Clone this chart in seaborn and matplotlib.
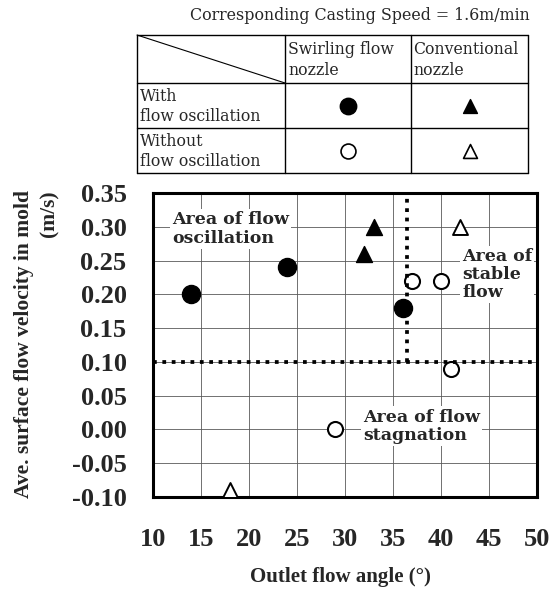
import matplotlib
matplotlib.use("Agg")
import numpy as np
import pandas as pd
import seaborn as sns
import matplotlib.pyplot as plt

# ---------------- data ----------------
swirl_osc_angle = [14, 24, 36]
swirl_osc_vel = [0.20, 0.24, 0.18]
conv_osc_angle = [32, 33]
conv_osc_vel = [0.26, 0.30]
swirl_stable_angle = [29, 37, 40, 41]
swirl_stable_vel = [0.00, 0.22, 0.22, 0.09]
conv_stable_angle = [18, 42]
conv_stable_vel = [-0.09, 0.30]

x_ticks = [10, 15, 20, 25, 30, 35, 40, 45, 50]
y_ticks = [-0.10, -0.05, 0.00, 0.05, 0.10, 0.15, 0.20, 0.25, 0.30, 0.35]
y_tick_labels = ["-0.10", "-0.05", "0.00", "0.05", "0.10", "0.15", "0.20", "0.25", "0.30", "0.35"]
threshold_vel = 0.10
threshold_angle = 36.5

title_text = "Corresponding Casting Speed = 1.6m/min"
col_headers = ["Swirling flow\nnozzle", "Conventional\nnozzle"]
row_headers = ["With\nflow oscillation", "Without\nflow oscillation"]

df = pd.concat([
    pd.DataFrame({"angle": swirl_osc_angle, "vel": swirl_osc_vel, "group": "swirl_osc"}),
    pd.DataFrame({"angle": conv_osc_angle, "vel": conv_osc_vel, "group": "conv_osc"}),
    pd.DataFrame({"angle": swirl_stable_angle, "vel": swirl_stable_vel, "group": "swirl_stable"}),
    pd.DataFrame({"angle": conv_stable_angle, "vel": conv_stable_vel, "group": "conv_stable"}),
], ignore_index=True)

styles = {
    "swirl_osc": dict(marker="o", s=169, color="black", edgecolor="black", linewidth=1.0),
    "conv_osc": dict(marker="^", s=132, color="black", edgecolor="black", linewidth=1.0),
    "swirl_stable": dict(marker="o", s=117, color="white", edgecolor="black", linewidth=1.5),
    "conv_stable": dict(marker="^", s=116, color="white", edgecolor="black", linewidth=1.4),
}

# ---------------- figure ----------------
sns.set_theme(style="white")
plt.rcParams["font.family"] = ["Liberation Serif", "DejaVu Serif"]
plt.rcParams["axes.unicode_minus"] = False

W, H = 551, 589
fig = plt.figure(figsize=(W / 100, H / 100), dpi=100)

# overlay axes in pixel coordinates for the header/legend table
ov = fig.add_axes([0, 0, 1, 1], zorder=-1)
ov.set_xlim(0, W)
ov.set_ylim(H, 0)
ov.axis("off")
ov.patch.set_alpha(0)

tfam = ["DejaVu Serif"]
ov.text(360, 15, title_text, ha="center", va="center", fontsize=11.4, family=tfam)

tx0, tx1, tx2, tx3 = 137, 285, 411, 528
ty0, ty1, ty2, ty3 = 35, 83, 128, 173
lw_t = 1.0
for yy in (ty0, ty1, ty2, ty3):
    ov.plot([tx0, tx3], [yy, yy], color="black", lw=lw_t)
for xx in (tx0, tx1, tx2, tx3):
    ov.plot([xx, xx], [ty0, ty3], color="black", lw=lw_t)
ov.plot([tx0, tx1], [ty0, ty1], color="black", lw=0.8)

tfs = 11.3
ov.text(tx1 + 3, (ty0 + ty1) / 2 + 1, col_headers[0], ha="left", va="center", fontsize=tfs,
        linespacing=1.25, family=tfam)
ov.text(tx2 + 2, (ty0 + ty1) / 2 + 1, col_headers[1], ha="left", va="center", fontsize=tfs,
        linespacing=1.25, family=tfam)
ov.text(tx0 + 3, (ty1 + ty2) / 2 + 1, row_headers[0], ha="left", va="center", fontsize=tfs,
        linespacing=1.25, family=tfam)
ov.text(tx0 + 3, (ty2 + ty3) / 2 + 1, row_headers[1], ha="left", va="center", fontsize=tfs,
        linespacing=1.25, family=tfam)

cx1, cx2 = (tx1 + tx2) / 2, (tx2 + tx3) / 2
cy1, cy2 = (ty1 + ty2) / 2, (ty2 + ty3) / 2
ov.scatter([cx1], [cy1], marker="o", s=140, color="black", edgecolor="black")
ov.scatter([cx2], [cy1], marker="^", s=100, color="black", edgecolor="black")
ov.scatter([cx1], [cy2], marker="o", s=115, color="white", edgecolor="black", linewidth=1.2)
ov.scatter([cx2], [cy2], marker="^", s=100, color="white", edgecolor="black", linewidth=1.2)

# main axes
ax = fig.add_axes([153 / W, 1 - 497 / H, 384 / W, 304 / H])
ax.set_xlim(10, 50)
ax.set_ylim(-0.10, 0.35)
ax.set_xticks(x_ticks)
ax.set_yticks(y_ticks)
ax.set_xticklabels([str(v) for v in x_ticks])
ax.set_yticklabels(y_tick_labels)
ax.grid(True, color="0.35", linewidth=0.6)
ax.set_axisbelow(True)
ax.tick_params(axis="both", length=0, labelsize=19)
ax.tick_params(axis="y", pad=19)
ax.tick_params(axis="x", pad=22)
for lab in ax.get_xticklabels() + ax.get_yticklabels():
    lab.set_fontweight("bold")
    lab.set_fontfamily("Liberation Serif")
for sp in ax.spines.values():
    sp.set_visible(True)
    sp.set_color("black")
    sp.set_linewidth(2.2)

# annotations
afs = 12.5
afam = ["DejaVu Serif"]
bbox = dict(facecolor="white", edgecolor="none", pad=1.5)
ax.text(12.0, 0.323, "Area of flow\noscillation", ha="left", va="top", fontsize=afs,
        fontweight="bold", linespacing=1.1, bbox=bbox, zorder=3, family=afam)
ax.text(42.2, 0.269, "Area of\nstable\nflow", ha="left", va="top", fontsize=afs,
        fontweight="bold", linespacing=1.1, bbox=bbox, zorder=3, family=afam)
ax.text(31.9, 0.031, "Area of flow\nstagnation", ha="left", va="top", fontsize=afs,
        fontweight="bold", linespacing=1.1, bbox=bbox, zorder=3, family=afam)

# data markers
for g, st in styles.items():
    sub = df[df["group"] == g]
    sns.scatterplot(data=sub, x="angle", y="vel", ax=ax, legend=False, zorder=5,
                    clip_on=False, **st)

# threshold dotted lines (drawn over the markers, as in the original)
ax.axhline(threshold_vel, color="black", lw=2.7, linestyle=(0, (1, 1.5)), zorder=6)
ax.plot([threshold_angle, threshold_angle], [threshold_vel, 0.35], color="black",
        lw=2.7, linestyle=(0, (1, 1.5)), zorder=6)

ax.set_xlabel("")
ax.set_ylabel("")

fig.text(340 / W, 1 - 577 / H, "Outlet flow angle (°)", ha="center", va="center",
         fontsize=15, fontweight="bold", family="Liberation Serif")
fig.text(37 / W, 1 - 344 / H, "Ave. surface flow velocity in mold\n(m/s)", ha="center",
         va="center", rotation=90, multialignment="right", fontsize=15.5,
         fontweight="bold", linespacing=1.35, family="Liberation Serif")

fig.savefig("out.png", dpi=100)
